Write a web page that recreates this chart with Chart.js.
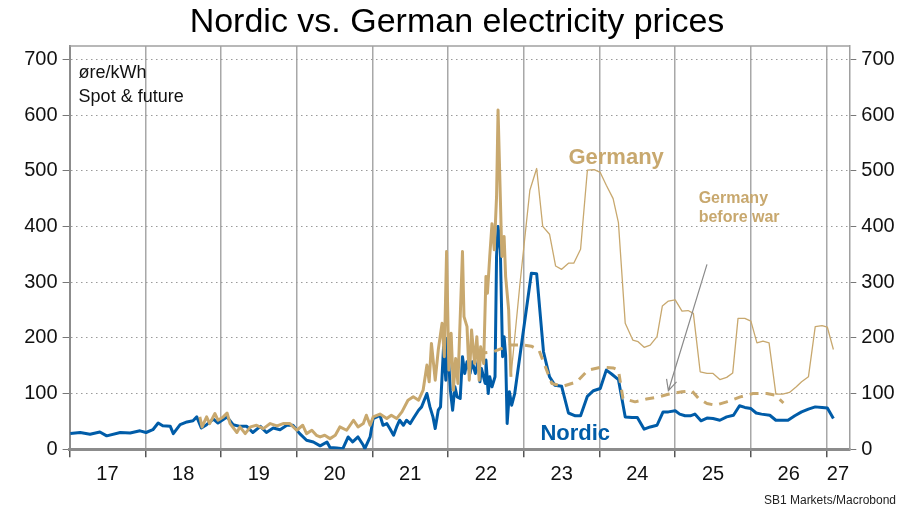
<!DOCTYPE html>
<html>
<head>
<meta charset="utf-8">
<script src="https://cdn.jsdelivr.net/npm/chart.js@4.4.1/dist/chart.umd.min.js"></script>
<style>
  html, body { margin: 0; padding: 0; background: #fff; }
  #wrap { width: 914px; height: 508px; }
</style>
</head>
<body>
<div id="wrap"><canvas id="priceChart"></canvas></div>
<script>
// øre/kWh, dates as decimal years
const nordicDates = [
    2017.01, 2017.14, 2017.27, 2017.40, 2017.49, 2017.67, 2017.80, 2017.93,
    2018.01, 2018.10, 2018.17, 2018.23, 2018.33, 2018.37, 2018.46, 2018.55, 2018.63, 2018.68, 2018.74, 2018.81, 2018.90, 2018.96,
    2019.08, 2019.16, 2019.25, 2019.34, 2019.42, 2019.52, 2019.60, 2019.69, 2019.78, 2019.87, 2019.95,
    2020.04, 2020.13, 2020.22, 2020.31, 2020.40, 2020.44, 2020.53, 2020.61, 2020.68, 2020.74, 2020.81, 2020.88, 2020.90, 2020.97,
    2021.01, 2021.06, 2021.10, 2021.14, 2021.19, 2021.23, 2021.28, 2021.32, 2021.36, 2021.41, 2021.45, 2021.50, 2021.54, 2021.61, 2021.65, 2021.72, 2021.76, 2021.80, 2021.83, 2021.87, 2021.90, 2021.94, 2021.97, 2021.99,
    2022.03, 2022.06, 2022.09, 2022.12, 2022.16, 2022.19, 2022.22, 2022.25, 2022.29, 2022.32, 2022.36, 2022.40, 2022.42, 2022.44, 2022.49, 2022.50, 2022.53, 2022.55, 2022.58, 2022.62, 2022.64, 2022.66, 2022.69, 2022.72, 2022.74, 2022.76, 2022.78, 2022.81, 2022.84, 2022.88,
    2023.10, 2023.17, 2023.26, 2023.34, 2023.41, 2023.50, 2023.59, 2023.68, 2023.75, 2023.84, 2023.92,
    2024.01, 2024.09, 2024.16, 2024.25, 2024.34, 2024.43, 2024.50, 2024.59, 2024.67, 2024.76, 2024.84, 2024.91,
    2025.00, 2025.06, 2025.13, 2025.20, 2025.26, 2025.34, 2025.42, 2025.50, 2025.59, 2025.68, 2025.77, 2025.85, 2025.92,
    2026.00, 2026.07, 2026.14, 2026.25, 2026.33, 2026.41, 2026.49, 2026.58, 2026.67, 2026.76, 2026.85, 2026.94,
    2027.01, 2027.09
];
const nordicValues = [
    28, 30, 27, 31, 24, 30, 29, 33,
    30, 35, 47, 42, 41, 28, 44, 49, 51, 58, 38, 44, 54, 47,
    58, 44, 41, 41, 30, 41, 30, 38, 35, 43, 43,
    28, 16, 13, 6, 13, 3, 2, 1, 22, 13, 22, 7, 1, 22,
    55, 58, 61, 43, 46, 37, 25, 40, 52, 43, 52, 46, 55, 70, 76, 100, 76, 58, 37, 70, 76, 184, 124, 199,
    106, 70, 112, 94, 91, 166, 136, 157, 136, 157, 136, 160, 121, 145, 118, 160, 100, 130, 112, 130, 346, 400, 358, 166, 202, 169, 46, 103, 79, 100,
    316, 315, 175, 130, 115, 113, 65, 60, 60, 95, 105,
    109, 142, 135, 125, 58, 57, 57, 36, 40, 43, 67, 67,
    69, 63, 60, 60, 63, 51, 56, 55, 52, 58, 61, 78, 75,
    73, 65, 63, 61, 52, 52, 52, 60, 67, 72, 76, 75,
    74, 55
];

// Germany spot
const germanyDates = [
    2018.72, 2018.75, 2018.81, 2018.85, 2018.92, 2018.96,
    2019.03, 2019.08, 2019.12, 2019.21, 2019.25, 2019.32, 2019.39, 2019.47, 2019.56, 2019.65, 2019.74, 2019.82, 2019.91,
    2020.00, 2020.08, 2020.13, 2020.20, 2020.26, 2020.31, 2020.37, 2020.44, 2020.51, 2020.57, 2020.66, 2020.75, 2020.81, 2020.88, 2020.92, 2020.97,
    2021.01, 2021.10, 2021.19, 2021.25, 2021.32, 2021.39, 2021.47, 2021.54, 2021.61, 2021.67, 2021.72, 2021.75, 2021.78, 2021.83, 2021.87, 2021.92, 2021.95, 2021.98,
    2022.01, 2022.04, 2022.07, 2022.10, 2022.13, 2022.19, 2022.21, 2022.25, 2022.28, 2022.31, 2022.35, 2022.38, 2022.41, 2022.43, 2022.47, 2022.50, 2022.52, 2022.55, 2022.58, 2022.61, 2022.64, 2022.66, 2022.69, 2022.71, 2022.74, 2022.76, 2022.80, 2022.83
];
const germanyValues = [
    58, 40, 58, 46, 64, 52,
    58, 65, 46, 30, 40, 28, 40, 43, 37, 46, 42, 46, 46,
    34, 43, 28, 34, 25, 22, 25, 19, 25, 40, 34, 52, 40, 46, 61, 43,
    58, 63, 55, 61, 55, 67, 88, 94, 88, 106, 151, 121, 190, 124, 178, 226, 166, 355,
    142, 208, 106, 163, 118, 355, 238, 220, 124, 214, 154, 202, 124, 184, 154, 310, 280, 346, 405, 358, 453, 609, 453, 346, 382, 310, 250, 130
];

// Germany futures
const germanyFutureDates = [
    2022.83, 2022.95, 2023.08, 2023.17, 2023.25, 2023.34, 2023.42, 2023.50, 2023.59, 2023.66, 2023.75, 2023.84, 2023.93,
    2024.01, 2024.09, 2024.18, 2024.25, 2024.34, 2024.44, 2024.51, 2024.59, 2024.67, 2024.76, 2024.83, 2024.91,
    2025.00, 2025.09, 2025.17, 2025.24, 2025.33, 2025.42, 2025.50, 2025.59, 2025.68, 2025.76, 2025.83, 2025.92,
    2026.00, 2026.08, 2026.16, 2026.24, 2026.33, 2026.42, 2026.51, 2026.60, 2026.67, 2026.76, 2026.85, 2026.94,
    2027.01, 2027.09
];
const germanyFutureValues = [
    130, 298, 465, 504, 400, 386, 329, 323, 334, 334, 359, 501, 502,
    497, 474, 450, 407, 226, 196, 193, 183, 187, 202, 257, 266,
    268, 248, 249, 244, 139, 136, 136, 125, 129, 137, 235, 235,
    230, 191, 194, 191, 99, 99, 102, 112, 121, 130, 220, 222,
    219, 179
];

// Germany futures before the war
const beforeWarDates = [
    2022.40, 2022.60, 2022.82, 2022.99,
    2023.10, 2023.20, 2023.37, 2023.52, 2023.70, 2023.85,
    2024.01, 2024.18, 2024.25, 2024.31, 2024.47, 2024.62, 2024.78, 2024.92,
    2025.09, 2025.22, 2025.31, 2025.42, 2025.53, 2025.68, 2025.86,
    2026.03, 2026.21, 2026.32, 2026.43
];
const beforeWarValues = [
    172, 175, 187, 187,
    185, 178, 118, 113, 121, 142,
    147, 146, 142, 91, 85, 90, 94, 99,
    103, 105, 91, 82, 79, 85, 94,
    100, 100, 97, 83
];

const yearTicks = [2017, 2017.5, 2018, 2018.5, 2019, 2019.5, 2020, 2020.5, 2021, 2021.5, 2022, 2022.5,
    2023, 2023.5, 2024, 2024.5, 2025, 2025.5, 2026, 2026.5, 2027, 2027.15];
const valueTicks = [0, 100, 200, 300, 400, 500, 600, 700];

const BLUE = 'rgb(0, 92, 168)';
const TAN = 'rgb(200, 168, 110)';
const FONT = '"Liberation Sans", Arial, sans-serif';

const toPoints = (xs, ys) => xs.map((x, i) => ({ x: x, y: ys[i] }));
const isBoundary = v => Number.isInteger(v);

const notes = {
    id: 'notes',
    afterDatasetsDraw(chart) {
        const { ctx, chartArea, scales: { x, y } } = chart;
        ctx.save();

        // top frame line
        ctx.strokeStyle = '#a0a0a0';
        ctx.lineWidth = 1.5;
        ctx.beginPath();
        ctx.moveTo(chartArea.left, chartArea.top);
        ctx.lineTo(chartArea.right, chartArea.top);
        ctx.stroke();

        ctx.textBaseline = 'middle';
        ctx.fillStyle = '#111';
        ctx.font = '18px ' + FONT;
        ctx.fillText('øre/kWh', chartArea.left + 9, chartArea.top + 27);
        ctx.fillText('Spot & future', chartArea.left + 9, chartArea.top + 51);

        ctx.font = 'bold 22px ' + FONT;
        ctx.fillStyle = TAN;
        ctx.textAlign = 'center';
        ctx.fillText('Germany', x.getPixelForValue(2024.22), y.getPixelForValue(523));
        ctx.fillStyle = BLUE;
        ctx.fillText('Nordic', x.getPixelForValue(2023.68), y.getPixelForValue(28));

        ctx.textAlign = 'left';
        ctx.fillStyle = TAN;
        ctx.font = 'bold 16px ' + FONT;
        ctx.fillText('Germany', x.getPixelForValue(2025.31), y.getPixelForValue(450));
        ctx.fillText('before war', x.getPixelForValue(2025.31), y.getPixelForValue(415));

        // arrow pointing at the pre-war curve
        const x1 = x.getPixelForValue(2025.42), y1 = y.getPixelForValue(332);
        const x2 = x.getPixelForValue(2024.91), y2 = y.getPixelForValue(105);
        const a = Math.atan2(y2 - y1, x2 - x1);
        ctx.strokeStyle = '#8a8a8a';
        ctx.lineWidth = 1.2;
        ctx.beginPath();
        ctx.moveTo(x1, y1);
        ctx.lineTo(x2, y2);
        ctx.moveTo(x2 - 12 * Math.cos(a - 0.45), y2 - 12 * Math.sin(a - 0.45));
        ctx.lineTo(x2, y2);
        ctx.lineTo(x2 - 12 * Math.cos(a + 0.45), y2 - 12 * Math.sin(a + 0.45));
        ctx.stroke();

        ctx.fillStyle = '#222';
        ctx.font = '12px ' + FONT;
        ctx.textAlign = 'right';
        ctx.fillText('SB1 Markets/Macrobond', 896, 501);
        ctx.restore();
    }
};

const yTickOpts = {
    color: '#111',
    font: { size: 20, family: FONT },
    padding: 5
};

new Chart(document.getElementById('priceChart'), {
    type: 'line',
    data: {
        datasets: [
            {
                label: 'Germany future',
                data: toPoints(germanyFutureDates, germanyFutureValues),
                borderColor: TAN,
                borderWidth: 1.3
            },
            {
                label: 'Germany before war',
                data: toPoints(beforeWarDates, beforeWarValues),
                borderColor: TAN,
                borderWidth: 3,
                borderDash: [9, 7]
            },
            {
                label: 'Germany',
                data: toPoints(germanyDates, germanyValues),
                borderColor: TAN,
                borderWidth: 3
            },
            {
                label: 'Nordic',
                data: toPoints(nordicDates, nordicValues),
                borderColor: BLUE,
                borderWidth: 3
            }
        ]
    },
    options: {
        responsive: true,
        maintainAspectRatio: false,
        animation: false,
        layout: { padding: 0 },
        elements: {
            point: { radius: 0 },
            line: { tension: 0, borderJoinStyle: 'round', borderCapStyle: 'butt' }
        },
        plugins: {
            legend: { display: false },
            tooltip: { enabled: false },
            title: {
                display: true,
                text: 'Nordic vs. German electricity prices',
                color: '#000',
                font: { size: 34, family: FONT, weight: 'normal', lineHeight: 1.2 },
                padding: { top: 2, bottom: 3.2 }
            }
        },
        scales: {
            x: {
                type: 'linear',
                min: 2017,
                max: 2027.3,
                afterBuildTicks: s => { s.ticks = yearTicks.map(v => ({ value: v })); },
                afterFit: s => { s.height = 58.8; },
                grid: {
                    color: c => isBoundary(c.tick.value) ? '#a8a8a8' : 'rgba(0,0,0,0)',
                    tickColor: c => isBoundary(c.tick.value) ? '#555' : 'rgba(0,0,0,0)',
                    lineWidth: 1.5,
                    tickLength: 8
                },
                border: { display: true, color: '#8c8c8c', width: 3 },
                ticks: {
                    autoSkip: false,
                    maxRotation: 0,
                    color: '#111',
                    font: { size: 20, family: FONT },
                    padding: 5,
                    callback: v => isBoundary(v) ? '' : String(Math.floor(v) - 2000)
                }
            },
            y: {
                position: 'left',
                min: 0,
                max: 724,
                afterBuildTicks: s => { s.ticks = valueTicks.map(v => ({ value: v })); },
                afterFit: s => { s.width = 69.6; },
                grid: {
                    color: '#9a9a9a',
                    lineWidth: 1,
                    tickColor: '#777',
                    tickLength: 7
                },
                border: { display: true, color: '#8c8c8c', width: 2, dash: [1.5, 3.5] },
                ticks: yTickOpts
            },
            y2: {
                position: 'right',
                min: 0,
                max: 724,
                afterBuildTicks: s => { s.ticks = valueTicks.map(v => ({ value: v })); },
                afterFit: s => { s.width = 64.7; },
                grid: {
                    drawOnChartArea: false,
                    tickColor: '#777',
                    tickLength: 7
                },
                border: { display: true, color: '#a0a0a0', width: 1.5 },
                ticks: yTickOpts
            }
        }
    },
    plugins: [notes]
});
</script>
</body>
</html>
